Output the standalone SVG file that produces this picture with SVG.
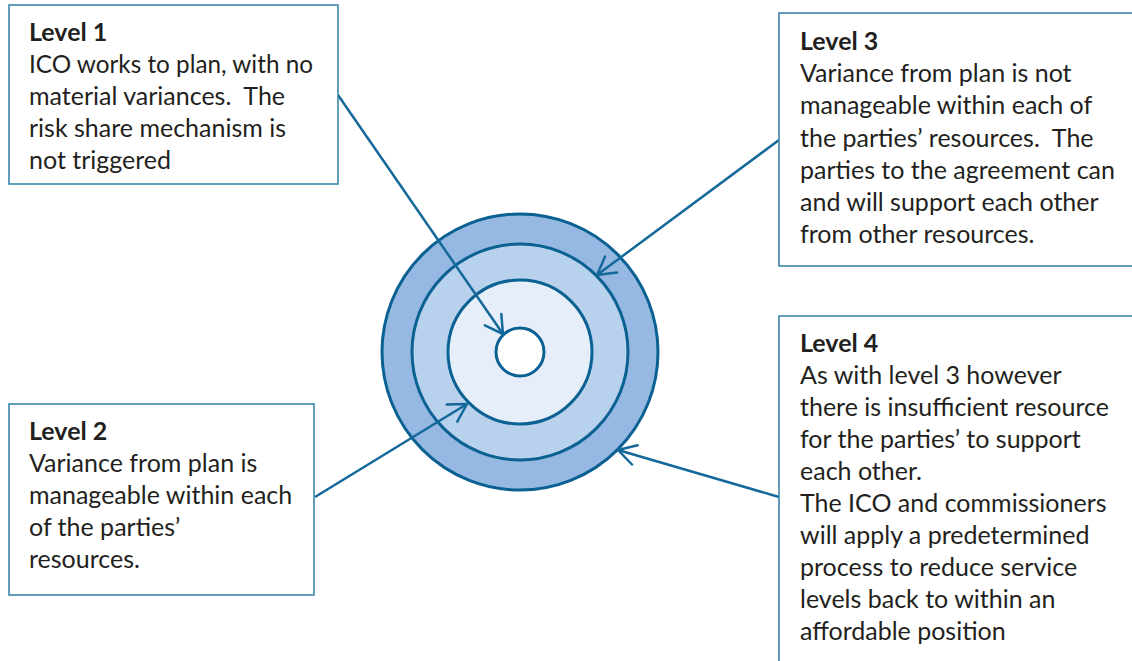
<svg xmlns="http://www.w3.org/2000/svg" width="1132" height="661" viewBox="0 0 1132 661">
  <style>
    .box { fill: #ffffff; stroke: #2f7fa6; stroke-width: 1.5; }
    .txt { font-family: Lato, "Liberation Sans", sans-serif; font-size: 25px; fill: #231f20; white-space: pre; }
    .hd { font-weight: bold; }
    .ring { stroke: #0b6192; stroke-width: 3; }
    .conn { fill: none; stroke: #14699a; stroke-width: 2.5; marker-end: url(#arrow); }
  </style>
  <defs>
    <marker id="arrow" markerUnits="userSpaceOnUse" markerWidth="30" markerHeight="30" viewBox="-22 -15 30 30" refX="0" refY="0" orient="auto" overflow="visible">
      <path d="M -17.5 -10 L 0 0 L -17.5 10" fill="none" stroke="#14699a" stroke-width="2.5" stroke-linecap="round" stroke-linejoin="round"/>
    </marker>
  </defs>
  <rect width="1132" height="661" fill="#ffffff"/>

  <!-- concentric levels -->
  <g id="target">
    <circle class="ring" cx="520" cy="352" r="138" fill="#95b9e2"/>
    <circle class="ring" cx="520" cy="352" r="108" fill="#b8d1ec"/>
    <circle class="ring" cx="520" cy="352" r="72" fill="#e6eff9"/>
    <circle class="ring" cx="520" cy="352" r="24" fill="#ffffff"/>
  </g>

  <!-- connectors -->
  <g id="connectors">
    <line class="conn" x1="338" y1="95" x2="503" y2="334"/>
    <line class="conn" x1="315" y1="497" x2="467" y2="404"/>
    <line class="conn" x1="779" y1="140" x2="597" y2="275"/>
    <line class="conn" x1="779" y1="497" x2="618" y2="450"/>
  </g>

  <g id="level1">
    <rect class="box" x="9" y="5" width="329" height="179"/>
    <text class="txt" x="29" xml:space="preserve"><tspan class="hd" x="29" y="41">Level 1</tspan><tspan x="29" y="73" textLength="284" lengthAdjust="spacingAndGlyphs">ICO works to plan, with no</tspan><tspan x="29" y="105">material variances.  The</tspan><tspan x="29" y="137">risk share mechanism is</tspan><tspan x="29" y="169">not triggered</tspan></text>
  </g>

  <g id="level2">
    <rect class="box" x="9" y="404" width="305" height="191"/>
    <text class="txt" x="29" xml:space="preserve"><tspan class="hd" x="29" y="440">Level 2</tspan><tspan x="29" y="472">Variance from plan is</tspan><tspan x="29" y="504">manageable within each</tspan><tspan x="29" y="536">of the parties’</tspan><tspan x="29" y="568">resources.</tspan></text>
  </g>

  <g id="level3">
    <rect class="box" x="779" y="13" width="360" height="253"/>
    <text class="txt" x="800" xml:space="preserve"><tspan class="hd" x="800" y="50">Level 3</tspan><tspan x="800" y="82">Variance from plan is not</tspan><tspan x="800" y="114">manageable within each of</tspan><tspan x="800" y="147">the parties’ resources.  The</tspan><tspan x="800" y="179">parties to the agreement can</tspan><tspan x="800" y="211">and will support each other</tspan><tspan x="800" y="243">from other resources.</tspan></text>
  </g>

  <g id="level4">
    <rect class="box" x="779" y="316" width="360" height="360"/>
    <text class="txt" x="800" xml:space="preserve"><tspan class="hd" x="800" y="352">Level 4</tspan><tspan x="800" y="384">As with level 3 however</tspan><tspan x="800" y="416">there is insufficient resource</tspan><tspan x="800" y="448">for the parties’ to support</tspan><tspan x="800" y="480">each other.</tspan><tspan x="800" y="512">The ICO and commissioners</tspan><tspan x="800" y="544">will apply a predetermined</tspan><tspan x="800" y="576">process to reduce service</tspan><tspan x="800" y="608">levels back to within an</tspan><tspan x="800" y="640">affordable position</tspan></text>
  </g>
</svg>
